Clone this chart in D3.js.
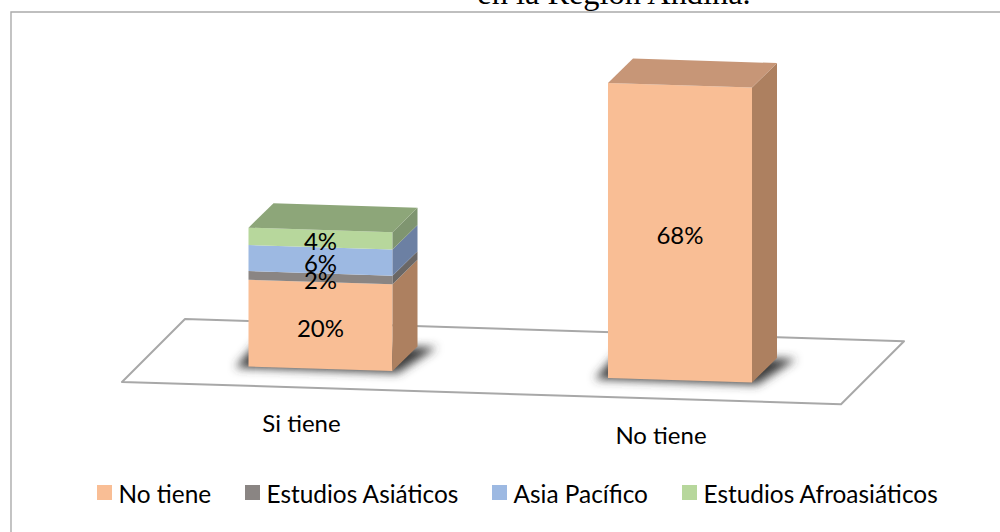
<!DOCTYPE html>
<html><head><meta charset="utf-8">
<style>html,body{margin:0;padding:0;background:#fff;overflow:hidden}svg{display:block}</style>
<script src="https://cdn.jsdelivr.net/npm/d3@7/dist/d3.min.js"></script>
</head><body><svg id="c" width="1000" height="532"></svg>
<script>
const categories = ["Si tiene", "No tiene"];
const seriesNames = ["No tiene", "Estudios Asiáticos", "Asia Pacífico", "Estudios Afroasiáticos"];
const noTiene = [20, 68];
const estudiosAsiaticos = [2, 0];
const asiaPacifico = [6, 0];
const estudiosAfroasiaticos = [4, 0];
const frontColors = ["#F9BE95", "#8A8583", "#9DB9E2", "#B7D79C"];
const sideColors = ["#AD8060", "#6A6766", "#6C80A3", "#7F9570"];
const topColors = ["#C79677", "#777", "#7F95B8", "#8DA679"];
const title = "en la Región Andina.";

const rows = categories.map((c, i) => ({cat: c, noTiene: noTiene[i], a: estudiosAsiaticos[i], p: asiaPacifico[i], f: estudiosAfroasiaticos[i]}));
const stack = d3.stack().keys(["noTiene", "a", "p", "f"])(rows);

const svg = d3.select("#c");
const FONT = "Lato, Carlito, sans-serif";
const x = d3.scaleBand().domain(categories).range([140.65, 859.85]).paddingInner(0.5994).paddingOuter(0.3);
const y = d3.scaleLinear().domain([0, 68]).range([0, 295]);
const slope = 0.032, depthX = 25, depthY = -24.5;
const ground = px => 366.5 + slope * (px - 249);
const Y = (px, v) => ground(px) - y(v);
const pts = a => a.map(p => p.join(",")).join(" ");

const defs = svg.append("defs");
defs.append("filter").attr("id", "blur").attr("x", "-30%").attr("y", "-60%").attr("width", "160%").attr("height", "220%")
  .append("feGaussianBlur").attr("stdDeviation", 5);

// frame
svg.append("path").attr("d", "M11,532V12H1000").attr("fill", "none").attr("stroke", "#ABABAB").attr("stroke-width", 1.4);

// title
svg.append("text").attr("x", 614).attr("y", 3.5).attr("text-anchor", "middle")
  .attr("font-family", "'Liberation Serif', serif").attr("font-size", 32.4).attr("fill", "#000").text(title);

// floor
const flX0 = 122, flX1 = 841, flDx = 63, flDy = -63;
const flY0 = ground(flX0) + 19.5;
const flY = px => flY0 + slope * (px - flX0) * 0.97;
svg.append("polygon")
  .attr("points", pts([[flX0, flY(flX0)], [flX1, flY(flX1)], [flX1 + flDx, flY(flX1) + flDy], [flX0 + flDx, flY(flX0) + flDy]]))
  .attr("fill", "#fff").attr("stroke", "#A8A8A8").attr("stroke-width", 2).attr("stroke-linejoin", "round");

// shadows
svg.append("g").selectAll("polygon").data(categories).join("polygon")
  .attr("filter", "url(#blur)").attr("fill", "#3a3a3a")
  .attr("points", c => {
    const a = x(c), b = a + x.bandwidth();
    return pts([[a - 13, ground(a) + 1], [b + 5, ground(b) + 2], [b + depthX + 19, ground(b) + depthY + 1],
                [a + 8, ground(a) + depthY + 1]]);
  });

// bars
stack.forEach((s, si) => {
  const g = svg.append("g").attr("class", "series");
  s.forEach((d, i) => {
    if (d[1] === d[0]) return;
    const c = categories[i], a = x(c), b = a + x.bandwidth();
    g.append("polygon").attr("fill", frontColors[si])
      .attr("points", pts([[a, Y(a, d[0])], [b, Y(b, d[0])], [b, Y(b, d[1])], [a, Y(a, d[1])]]));
    g.append("polygon").attr("fill", sideColors[si])
      .attr("points", pts([[b, Y(b, d[0])], [b + depthX, Y(b, d[0]) + depthY], [b + depthX, Y(b, d[1]) + depthY], [b, Y(b, d[1])]]));
    const isTop = stack.every((o, oi) => oi <= si || o[i][1] === o[i][0]);
    if (isTop) g.append("polygon").attr("fill", topColors[si])
      .attr("points", pts([[a, Y(a, d[1])], [b, Y(b, d[1])], [b + depthX, Y(b, d[1]) + depthY], [a + depthX, Y(a, d[1]) + depthY]]));
  });
});

// data labels
stack.forEach(s => s.forEach((d, i) => {
  const v = d[1] - d[0];
  if (!v) return;
  const c = x(categories[i]) + x.bandwidth() / 2;
  svg.append("text").attr("x", c).attr("y", Y(c, (d[0] + d[1]) / 2) + 3).attr("dy", "0.35em")
    .attr("text-anchor", "middle").attr("font-family", FONT).attr("font-size", 24).attr("fill", "#000").text(v + "%");
}));

// category labels
categories.forEach(c => {
  const m = x(c) + x.bandwidth() / 2 - 19;
  svg.append("text").attr("x", m).attr("y", ground(m) + 64).attr("text-anchor", "middle")
    .attr("font-family", FONT).attr("font-size", 24).attr("fill", "#000").text(c);
});

// legend
const lx = d3.scaleOrdinal().domain(seriesNames).range([97, 245, 492, 682]);
const lg = svg.append("g").selectAll("g").data(seriesNames).join("g").attr("transform", d => `translate(${lx(d)},485)`);
lg.append("rect").attr("width", 15).attr("height", 15).attr("fill", (d, i) => frontColors[i]);
lg.append("text").attr("x", 21.5).attr("y", 18).attr("font-family", FONT).attr("font-size", 24.4).attr("fill", "#000").text(d => d);
</script></body></html>
